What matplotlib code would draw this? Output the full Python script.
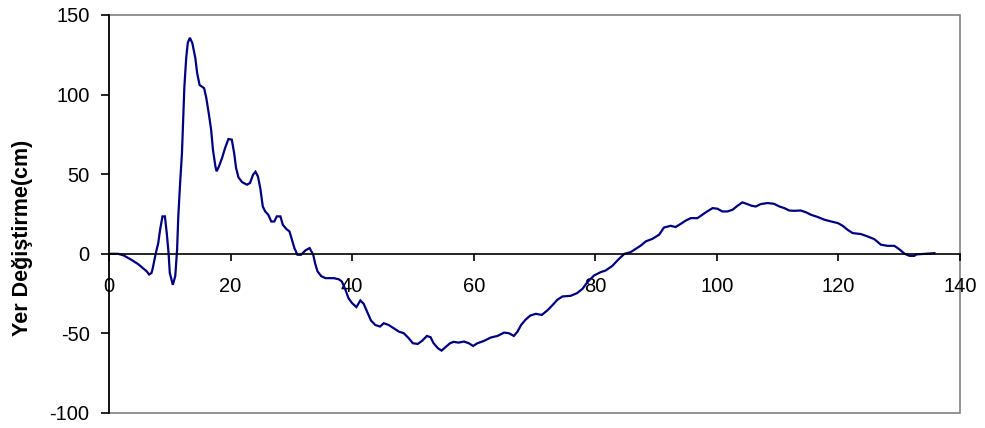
import matplotlib
matplotlib.use("Agg")
import matplotlib.pyplot as plt
from matplotlib.patches import Rectangle

# Time (x) and displacement (cm)
x_vals = [0, 1.5, 2.4, 3.7, 4.8, 6.2, 6.6, 7.0, 7.2, 7.7, 8.1, 8.4, 8.8, 9.2, 9.5, 9.8,
          10.0, 10.5, 10.9, 11.2, 11.4, 11.7, 12.0, 12.2, 12.4, 12.7, 12.96, 13.3, 13.7,
          14.2, 14.5, 14.9, 15.3, 15.65, 16.0, 16.4, 16.8, 17.1, 17.5, 17.7, 18.1, 18.6,
          19.1, 19.65, 20.2, 20.6, 20.9, 21.3, 21.9, 22.7, 23.2, 23.7, 24.1, 24.5, 24.9,
          25.3, 25.7, 26.2, 26.7, 27.2, 27.6, 28.2, 28.6, 29.2, 29.7, 30.1, 30.5, 31.0,
          31.6, 32.3, 33.0, 33.6, 33.9, 34.3, 34.9, 35.6, 37.0, 37.8, 38.3, 38.9, 39.4,
          40.0, 40.7, 41.35, 41.9, 42.45, 43.1, 43.8, 44.6, 45.2, 46.0, 46.8, 47.7, 48.5,
          49.3, 50.0, 50.8, 51.5, 52.3, 52.9, 53.4, 54.1, 54.7, 55.35, 56.1, 56.7, 57.5,
          58.4, 59.2, 59.9, 60.6, 61.7, 62.8, 63.9, 65.0, 65.8, 66.6, 67.2, 67.8, 68.5,
          69.3, 70.2, 71.2, 72.1, 72.9, 73.75, 74.6, 75.95, 77.0, 77.9, 78.7, 79.8, 80.9,
          81.7, 82.8, 83.9, 84.8, 85.8, 86.65, 87.5, 88.3, 89.4, 90.5, 91.3, 92.4, 93.2,
          94.1, 94.9, 95.7, 96.8, 97.6, 98.4, 99.3, 100.1, 100.9, 101.75, 102.6, 103.4,
          104.2, 104.9, 105.7, 106.4, 107.2, 108.35, 109.4, 110.3, 111.1, 111.9, 112.7,
          113.8, 114.7, 115.5, 116.6, 117.7, 118.8, 119.9, 120.7, 121.5, 122.35, 123.7,
          124.8, 125.9, 127.0, 128.1, 129.2, 130.0, 130.9, 131.7, 132.5, 132.8, 135.8]
y_vals = [0, 0, -1, -3.8, -6.5, -11, -13, -12, -9, 0.4, 6.7, 15, 23.5, 23.5, 13, 0.4,
          -12, -19.5, -14, 2.5, 23.5, 44.5, 63, 84, 105, 123, 132.5, 135.7, 132.5,
          123, 113.6, 106, 105, 104, 98, 88.5, 78, 65.4, 55, 51.8, 55, 60.2,
          66.5, 72.1, 71.7, 63, 54, 48, 45, 43.4, 44.5, 49.7, 51.5, 48.6, 41,
          29.7, 26.6, 24.5, 20.3, 20.3, 23.5, 23.5, 18.2, 15.5, 14, 8.8, 3.6, -0.6,
          -0.6, 2.1, 3.6, -0.6, -5.9, -11, -14, -15.3, -15.3, -16, -17.4, -22.6, -27.9,
          -31, -33.5, -29.3, -31.4, -36.3, -41.9, -44.7, -45.7, -43.6, -44.7, -46.7, -48.9, -49.9,
          -53, -56.2, -56.6, -54.7, -51.6, -52.4, -56.2, -59.3, -60.8, -58.7, -56.2, -55.3, -55.8,
          -55.1, -56.2, -57.9, -56.2, -54.7, -52.6, -51.6, -49.5, -49.9, -51.6, -48.9, -44.7, -41.5,
          -38.8, -37.7, -38.4, -35.6, -32.5, -28.9, -26.8, -26.4, -24.7, -22, -17.8, -13.6, -11.5,
          -10.5, -7.6, -3.2, 0, 1, 3.1, 5.2, 7.8, 9.4, 12, 16.5, 17.6, 16.8,
          18.9, 20.9, 22.4, 22.4, 24.5, 26.6, 28.7, 28.3, 26.6, 26.6, 27.7, 30.2,
          32.3, 31.4, 30.2, 29.7, 31.2, 31.9, 31.4, 29.7, 28.7, 27.2, 27,
          27.2, 26, 24.5, 23.1, 21.4, 20.3, 19.3, 17.6, 15.1, 13, 12.4,
          10.9, 9.2, 5.7, 5, 5, 2.9, 0, -1.3, -1.3, -0.4, 0.4]

x_ticks = [0, 20, 40, 60, 80, 100, 120, 140]
y_ticks = [-100, -50, 0, 50, 100, 150]
y_label = "Yer Değiştirme(cm)"

plt.rcParams['font.family'] = ['Liberation Sans', 'DejaVu Sans']
plt.rcParams['axes.unicode_minus'] = False

fig = plt.figure(figsize=(9.85, 4.28), dpi=100)
ax = fig.add_axes([109/985, 1-413/428, (960-109)/985, (413-15)/428])

ax.plot(x_vals, y_vals, color='#000080', lw=1.6, solid_joinstyle='miter')

ax.set_xlim(0, 140)
ax.set_ylim(-100, 150)
ax.set_xticks(x_ticks)
ax.set_yticks(y_ticks)

# frame: gray top/right/bottom, black left, x-axis crossing at 0
ax.spines['top'].set_visible(False)
ax.spines['right'].set_visible(False)
ax.add_patch(Rectangle((0, 0), 1, 1, transform=ax.transAxes, fill=False,
                       edgecolor='#808080', lw=1.2, clip_on=False, zorder=0.5))
ax.spines['left'].set_color('black')
ax.spines['left'].set_linewidth(1.2)
ax.spines['left'].set_zorder(3)
ax.spines['bottom'].set_position(('data', 0))
ax.spines['bottom'].set_color('black')
ax.spines['bottom'].set_linewidth(1.2)

ax.tick_params(axis='x', direction='out', length=5, width=1.2, pad=12,
               labelsize=14.5, colors='black')
ax.tick_params(axis='y', direction='out', length=6, width=1.2, pad=8,
               labelsize=14.5, colors='black')

fig.text(23/985, 1-238/428, y_label, rotation=90, ha='center', va='center',
         fontsize=15.5, fontweight='bold')

fig.savefig('out.png', dpi=100)
